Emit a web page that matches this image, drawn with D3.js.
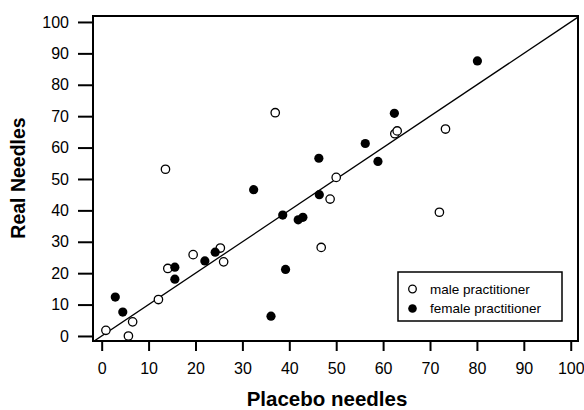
<!DOCTYPE html>
<html>
<head>
<meta charset="utf-8">
<script src="https://cdn.jsdelivr.net/npm/d3@7"></script>
<style>
body { margin: 0; background: #fff; }
svg { font-family: "Liberation Sans", Arial, sans-serif; }
</style>
</head>
<body>
<script>
// male practitioner (open circles)
var male_placebo = [0.9, 5.7, 6.6, 12.1, 14.1, 19.5, 25.3, 26.0, 13.6, 37.0, 46.8, 48.7, 50.0, 62.5, 63.0, 73.3, 72.0];
var male_real    = [1.8, 0.0, 4.5, 11.6, 21.5, 25.9, 28.0, 23.6, 53.1, 71.1, 28.2, 43.6, 50.5, 64.4, 65.3, 65.9, 39.4];

// female practitioner (filled circles)
var female_placebo = [2.9, 4.5, 15.6, 15.6, 22.0, 24.2, 32.4, 36.1, 38.6, 39.2, 41.9, 42.9, 46.4, 46.3, 56.2, 58.9, 62.4, 80.1];
var female_real    = [12.4, 7.6, 21.9, 18.1, 23.9, 26.7, 46.6, 6.3, 38.5, 21.2, 37.0, 37.8, 45.0, 56.6, 61.3, 55.6, 70.9, 87.6];

var tick_values = [0, 10, 20, 30, 40, 50, 60, 70, 80, 90, 100];
var legend_labels = ["male practitioner", "female practitioner"];

var width = 584, height = 410;
var box = {left: 93, right: 578, top: 16, bottom: 341};

var svg = d3.select("body").append("svg")
            .attr("width", width)
            .attr("height", height);

var x = d3.scaleLinear().domain([-1.85, 101.55]).range([box.left, box.right]);
var y = d3.scaleLinear().domain([-1.6, 101.9]).range([box.bottom, box.top]);

// y axis
var yAxis = svg.append("g")
               .attr("transform", "translate(" + box.left + ",0)")
               .call(d3.axisLeft(y).tickValues(tick_values).tickSize(15).tickPadding(9));
yAxis.select(".domain").remove();

// x axis
var xAxis = svg.append("g")
               .attr("transform", "translate(0," + box.bottom + ")")
               .call(d3.axisBottom(x).tickValues(tick_values).tickSize(10).tickPadding(12));
xAxis.select(".domain").remove();

svg.selectAll(".tick line").attr("stroke", "#000").attr("stroke-width", 2);
svg.selectAll(".tick text")
   .attr("font-size", 16)
   .attr("font-family", "'Liberation Sans', Arial, sans-serif")
   .attr("fill", "#000");

// clip for the reference line
svg.append("clipPath").attr("id", "plotclip")
   .append("rect")
   .attr("x", box.left).attr("y", box.top)
   .attr("width", box.right - box.left).attr("height", box.bottom - box.top);

// line of equality y = x
svg.append("line")
   .attr("clip-path", "url(#plotclip)")
   .attr("x1", x(-2)).attr("y1", y(-2))
   .attr("x2", x(102)).attr("y2", y(102))
   .attr("stroke", "#000")
   .attr("stroke-width", 1.3);

// male points
svg.append("g").selectAll("circle")
   .data(d3.zip(male_placebo, male_real))
   .enter().append("circle")
   .attr("cx", function(d) { return x(d[0]); })
   .attr("cy", function(d) { return y(d[1]); })
   .attr("r", 4.2)
   .attr("fill", "#fff")
   .attr("stroke", "#000")
   .attr("stroke-width", 1.3);

// female points
svg.append("g").selectAll("circle")
   .data(d3.zip(female_placebo, female_real))
   .enter().append("circle")
   .attr("cx", function(d) { return x(d[0]); })
   .attr("cy", function(d) { return y(d[1]); })
   .attr("r", 4.6)
   .attr("fill", "#000");

// plot box
svg.append("rect")
   .attr("x", box.left).attr("y", box.top)
   .attr("width", box.right - box.left).attr("height", box.bottom - box.top)
   .attr("fill", "none")
   .attr("stroke", "#000")
   .attr("stroke-width", 2);

// legend
var legend = svg.append("g").attr("transform", "translate(398,272)");
legend.append("rect")
      .attr("width", 164).attr("height", 49)
      .attr("fill", "#fff")
      .attr("stroke", "#000")
      .attr("stroke-width", 1.5);

var rows = legend.selectAll(".row")
      .data(legend_labels)
      .enter().append("g")
      .attr("transform", function(d, i) { return "translate(0," + (17 + i * 19.5) + ")"; });

rows.append("circle")
    .attr("cx", 14.5)
    .attr("r", function(d, i) { return i === 0 ? 3.8 : 4.3; })
    .attr("fill", function(d, i) { return i === 0 ? "#fff" : "#000"; })
    .attr("stroke", "#000")
    .attr("stroke-width", function(d, i) { return i === 0 ? 1.3 : 0; });

rows.append("text")
    .attr("x", 32)
    .attr("dy", "0.35em")
    .attr("font-size", 13.5)
    .text(function(d) { return d; });

// axis titles
svg.append("text")
   .attr("x", 327)
   .attr("y", 406)
   .attr("text-anchor", "middle")
   .attr("font-size", 20.5)
   .attr("font-weight", "bold")
   .text("Placebo needles");

svg.append("text")
   .attr("transform", "translate(25,178) rotate(-90)")
   .attr("text-anchor", "middle")
   .attr("font-size", 19.5)
   .attr("font-weight", "bold")
   .text("Real Needles");
</script>
</body>
</html>
